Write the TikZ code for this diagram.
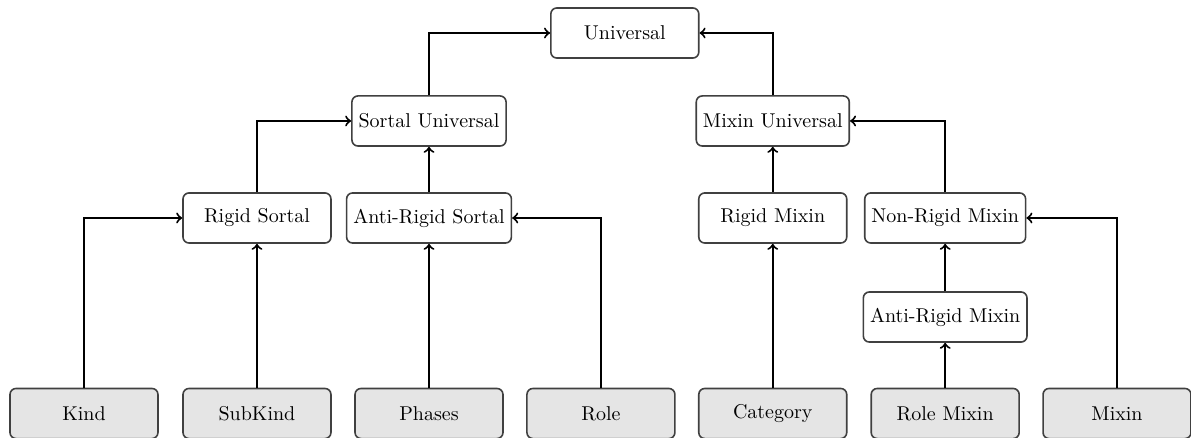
\documentclass[tikz,border=0pt]{standalone}
\usetikzlibrary{positioning}

\begin{document}
\begin{tikzpicture}[
		univ/.style={draw=black!75, thick, rounded corners=3pt, minimum width=2.6cm, minimum height=0.88cm},
		leaf/.style={univ, fill=gray!20},
		isa/.style={->, line width=1pt}
	]
		\useasboundingbox (0,0) rectangle (20.93,7.697);

		% Top levels
		\node[univ] (universal) at (10.98,7.117) {Universal};
		\node[univ] (sortal) at (7.539,5.571) {Sortal Universal};
		\node[univ] (mixin) at (13.58,5.571) {Mixin Universal};

		% Middle levels
		\node[univ] (rigidsortal) at (4.516,3.866) {Rigid Sortal};
		\node[univ] (antirigidsortal) at (7.539,3.866) {Anti-Rigid Sortal};
		\node[univ] (rigidmixin) at (13.58,3.866) {Rigid Mixin};
		\node[univ] (nonrigidmixin) at (16.61,3.866) {Non-Rigid Mixin};
		\node[univ] (antirigidmixin) at (16.61,2.126) {Anti-Rigid Mixin};

		% Bottom row
		\node[leaf] (kind) at (1.476,0.43) {Kind};
		\node[leaf] (subkind) at (4.516,0.43) {SubKind};
		\node[leaf] (phases) at (7.539,0.43) {Phases};
		\node[leaf] (role) at (10.56,0.43) {Role};
		\node[leaf] (category) at (13.58,0.43) {Category};
		\node[leaf] (rolemixin) at (16.61,0.43) {Role Mixin};
		\node[leaf] (mixinleaf) at (19.63,0.43) {Mixin};

		% Sortal side
		\draw[isa] (kind.north) |- (rigidsortal.west);
		\draw[isa] (subkind) -- (rigidsortal);
		\draw[isa] (phases) -- (antirigidsortal);
		\draw[isa] (role.north) |- (antirigidsortal.east);
		\draw[isa] (rigidsortal.north) |- (sortal.west);
		\draw[isa] (antirigidsortal) -- (sortal);
		\draw[isa] (sortal.north) |- (universal.west);

		% Mixin side
		\draw[isa] (category) -- (rigidmixin);
		\draw[isa] (rigidmixin) -- (mixin);
		\draw[isa] (rolemixin) -- (antirigidmixin);
		\draw[isa] (antirigidmixin) -- (nonrigidmixin);
		\draw[isa] (mixinleaf.north) |- (nonrigidmixin.east);
		\draw[isa] (nonrigidmixin.north) |- (mixin.east);
		\draw[isa] (mixin.north) |- (universal.east);
	\end{tikzpicture}
\end{document}
